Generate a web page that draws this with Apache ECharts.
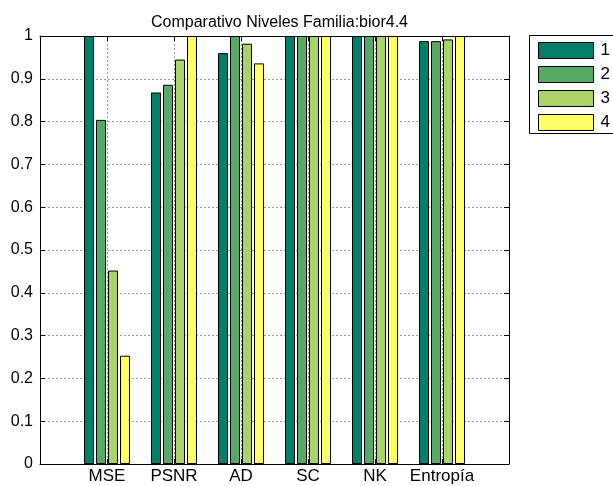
<!DOCTYPE html>
<html>
<head>
<meta charset="utf-8">
<script src="https://cdn.jsdelivr.net/npm/echarts@6/dist/echarts.min.js"></script>
<style>
  html, body { margin: 0; padding: 0; background: #fff; }
  #chart { width: 613px; height: 486px; }
</style>
</head>
<body>
<div id="chart"></div>
<script>
// Metric groups along the x axis (placed at x = 1..6)
const categories = ['MSE', 'PSNR', 'AD', 'SC', 'NK', 'Entropía'];
// Normalised values per decomposition level
const level1 = [1.000, 0.868, 0.960, 1.000, 1.000, 0.988];
const level2 = [0.804, 0.886, 1.000, 1.000, 1.000, 0.988];
const level3 = [0.452, 0.945, 0.982, 1.000, 1.000, 0.992];
const level4 = [0.253, 1.000, 0.936, 1.000, 1.000, 1.000];
const levelNames = ['1', '2', '3', '4'];
const levelColors = ['#00806a', '#56aa66', '#a9d468', '#ffff66'];
const yTicks = [0, 0.1, 0.2, 0.3, 0.4, 0.5, 0.6, 0.7, 0.8, 0.9, 1];

const font = "'Liberation Sans', Arial, sans-serif";
const levels = [level1, level2, level3, level4];

const series = levels.map((vals, i) => ({
  name: levelNames[i],
  type: 'bar',
  barWidth: 10,
  barGap: '20%',
  xAxisIndex: 0,
  yAxisIndex: 0,
  itemStyle: { color: levelColors[i], borderColor: '#000', borderWidth: 1 },
  data: vals.map((v, k) => [k + 1, v])
}));

const gridLine = { show: true, lineStyle: { color: '#9a9a9a', type: [2, 2], width: 1 } };
const tickIn = { show: true, inside: true, length: 5, lineStyle: { color: '#000' } };

const option = {
  animation: false,
  backgroundColor: '#fff',
  title: {
    text: 'Comparativo Niveles Familia:bior4.4',
    left: 274.5,
    textAlign: 'center',
    top: 10,
    textStyle: { fontFamily: font, fontSize: 16, fontWeight: 'normal', color: '#000' }
  },
  // legend frame runs past the right edge of the canvas
  graphic: [{
    type: 'rect',
    z: 0,
    shape: { x: 529.5, y: 35.5, width: 120, height: 98 },
    style: { fill: '#fff', stroke: '#000', lineWidth: 1 }
  }],
  legend: {
    orient: 'vertical',
    left: 529,
    top: 35,
    padding: [7, 10, 5, 9],
    itemWidth: 55,
    itemHeight: 16,
    itemGap: 7,
    icon: 'rect',
    z: 10,
    textStyle: { fontFamily: font, fontSize: 17, color: '#000', padding: [0, 0, 0, 2] },
    data: levelNames,
    itemStyle: { borderColor: '#000', borderWidth: 1 }
  },
  grid: { left: 40, right: 104, top: 36, bottom: 22, containLabel: false },
  xAxis: [
    {
      type: 'value', min: 0, max: 7, interval: 1, position: 'bottom',
      axisLine: { show: true, onZero: false, lineStyle: { color: '#000', width: 1 } },
      axisTick: tickIn,
      splitLine: gridLine,
      axisLabel: {
        margin: 4, fontFamily: font, fontSize: 17, color: '#000',
        formatter: v => categories[v - 1] || ''
      }
    },
    {
      type: 'value', min: 0, max: 7, interval: 1, position: 'top',
      axisLine: { show: true, onZero: false, lineStyle: { color: '#000', width: 1 } },
      axisTick: tickIn,
      splitLine: { show: false },
      axisLabel: { show: false }
    }
  ],
  yAxis: [
    {
      type: 'value', min: 0, max: 1, interval: 0.1, position: 'left',
      axisLine: { show: true, onZero: false, lineStyle: { color: '#000', width: 1 } },
      axisTick: tickIn,
      splitLine: gridLine,
      axisLabel: {
        margin: 7, fontFamily: font, fontSize: 16, color: '#000',
        formatter: v => {
          const t = yTicks.find(y => Math.abs(y - v) < 1e-9);
          return t === undefined ? '' : String(t);
        }
      }
    },
    {
      type: 'value', min: 0, max: 1, interval: 0.1, position: 'right',
      axisLine: { show: true, onZero: false, lineStyle: { color: '#000', width: 1 } },
      axisTick: tickIn,
      splitLine: { show: false },
      axisLabel: { show: false }
    }
  ],
  series: series
};

const chart = echarts.init(document.getElementById('chart'), null, { renderer: 'canvas' });
chart.setOption(option);
</script>
</body>
</html>
